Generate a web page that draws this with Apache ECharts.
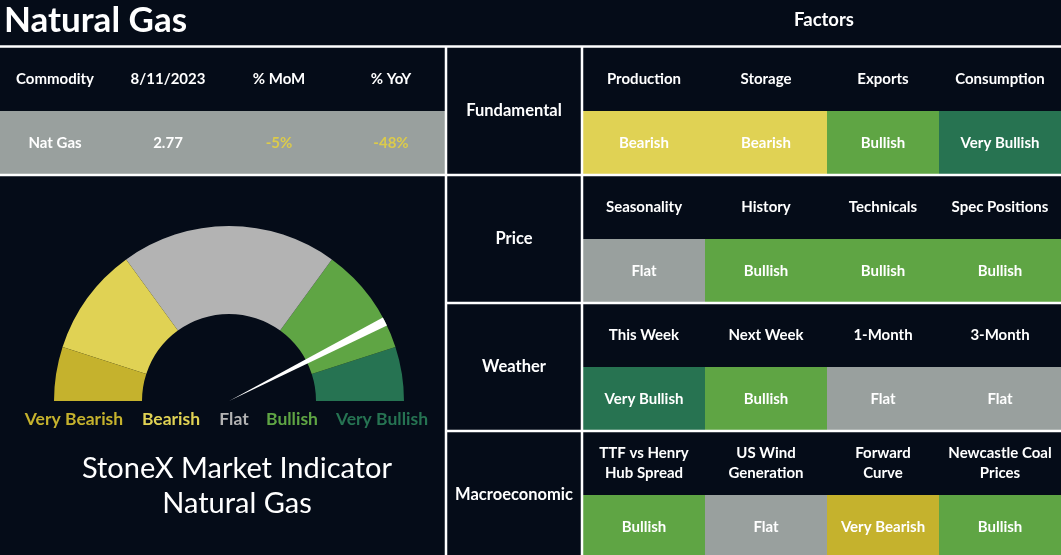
<!DOCTYPE html>
<html>
<head>
<meta charset="utf-8">
<script src="https://cdn.jsdelivr.net/npm/echarts@6/dist/echarts.min.js"></script>
<style>
html,body{margin:0;padding:0;background:#050c18;}
#chart{width:1061px;height:555px;}
</style>
</head>
<body>
<div id="chart"></div>
<script>
// ---------- DATA ----------
const pageTitle = 'Natural Gas';
const factorsTitle = 'Factors';
const commodityHeaders = ['Commodity', '8/11/2023', '% MoM', '% YoY'];
const commodityValues = ['Nat Gas', '2.77', '-5%', '-48%'];
const gaugeBands = ['Very Bearish', 'Bearish', 'Flat', 'Bullish', 'Very Bullish'];
const gaugeBandEnds = [0.1, 0.3, 0.7, 0.9, 1.0];
const indicatorValue = 85;
const indicatorTitle = ['StoneX Market Indicator', 'Natural Gas'];
const factorGroups = ['Fundamental', 'Price', 'Weather', 'Macroeconomic'];
const fundamentalFactors = ['Production', 'Storage', 'Exports', 'Consumption'];
const fundamentalSignals = ['Bearish', 'Bearish', 'Bullish', 'Very Bullish'];
const priceFactors = ['Seasonality', 'History', 'Technicals', 'Spec Positions'];
const priceSignals = ['Flat', 'Bullish', 'Bullish', 'Bullish'];
const weatherFactors = ['This Week', 'Next Week', '1-Month', '3-Month'];
const weatherSignals = ['Very Bullish', 'Bullish', 'Flat', 'Flat'];
const macroFactors = ['TTF vs Henry\nHub Spread', 'US Wind\nGeneration', 'Forward\nCurve', 'Newcastle Coal\nPrices'];
const macroSignals = ['Bullish', 'Flat', 'Very Bearish', 'Bullish'];

// ---------- STYLE ----------
const BG = '#050c18';
const FONT = 'Lato, "Noto Sans", sans-serif';
const bandColors = {
  'Very Bearish': '#c5b22d',
  'Bearish': '#e0d254',
  'Flat': '#b3b3b3',
  'Bullish': '#5fa544',
  'Very Bullish': '#267352'
};
const cellColors = {
  'Very Bearish': '#c5b22d',
  'Bearish': '#e0d254',
  'Flat': '#99a09e',
  'Bullish': '#5fa544',
  'Very Bullish': '#277351'
};
const valueTextColors = ['#ffffff', '#ffffff', '#dccb4a', '#dccb4a'];

const factorRows = [
  [fundamentalFactors, fundamentalSignals],
  [priceFactors, priceSignals],
  [weatherFactors, weatherSignals],
  [macroFactors, macroSignals]
];

// layout
const colX = [583, 705, 827, 939, 1061];
const blockTop = [47, 175, 303, 431];
const leftColCenters = [55, 168, 279, 391];
const gaugeLabelX = [74, 171, 234, 292, 382];

const graphics = [];
function txt(x, y, s, size, color, weight, lh) {
  graphics.push({
    type: 'text', z: 10,
    style: {
      x: x, y: y, text: s, fill: color, font: (weight || 'bold') + ' ' + size + 'px ' + FONT,
      textAlign: 'center', textVerticalAlign: 'middle', lineHeight: lh || size * 1.3
    }
  });
}
function rect(x, y, w, h, color) {
  graphics.push({ type: 'rect', z: 1, shape: { x: x, y: y, width: w, height: h }, style: { fill: color } });
}
function line(x1, y1, x2, y2) {
  graphics.push({ type: 'line', z: 5, shape: { x1: x1, y1: y1, x2: x2, y2: y2 }, style: { stroke: '#ffffff', lineWidth: 2.5 } });
}

// title
graphics.push({
  type: 'text', z: 10,
  style: { x: 4, y: 21, text: pageTitle, fill: '#ffffff', font: 'bold 35px ' + FONT, textAlign: 'left', textVerticalAlign: 'middle' }
});
txt(824, 20, factorsTitle, 18.5, '#ffffff');

// left commodity table
rect(0, 111, 445, 63, cellColors['Flat']);
commodityHeaders.forEach((h, i) => txt(leftColCenters[i], 79, h, 15, '#ffffff'));
commodityValues.forEach((v, i) => txt(leftColCenters[i], 143, v, 15, valueTextColors[i]));

// gauge labels
gaugeBands.forEach((b, i) => txt(gaugeLabelX[i], 419, b, 17.5, bandColors[b]));
txt(237, 469, indicatorTitle[0], 29, '#ffffff', 'normal');
txt(237, 504, indicatorTitle[1], 29, '#ffffff', 'normal');

// factor tables
factorGroups.forEach((g, gi) => {
  const top = blockTop[gi];
  txt(514, top + 64, g, 16.5, '#ffffff');
  const [names, sigs] = factorRows[gi];
  names.forEach((n, ci) => {
    const x0 = colX[ci], x1 = colX[ci + 1], cx = (x0 + x1) / 2;
    txt(cx, top + 32, n, 15, '#ffffff', 'bold', 20);
    rect(x0, top + 64, x1 - x0, Math.min(64, 555 - top - 64), cellColors[sigs[ci]]);
    txt(cx, top + 96, sigs[ci], 15, '#ffffff');
  });
});

// separators
line(0, 46.5, 1061, 46.5);
line(446, 46, 446, 555);
line(582, 46, 582, 555);
line(0, 175, 1061, 175);
line(446, 303, 1061, 303);
line(446, 431, 1061, 431);

const axisColors = gaugeBands.map((b, i) => [gaugeBandEnds[i], bandColors[b]]);

const chart = echarts.init(document.getElementById('chart'), null, { renderer: 'canvas' });
chart.setOption({
  backgroundColor: BG,
  animation: false,
  series: [{
    type: 'gauge',
    center: [229, 401],
    radius: 175,
    startAngle: 180,
    endAngle: 0,
    min: 0,
    max: 100,
    axisLine: { lineStyle: { width: 88, color: axisColors } },
    axisTick: { show: false },
    splitLine: { show: false },
    axisLabel: { show: false },
    pointer: {
      show: true,
      icon: 'path://M0,0 L10,0 L5,100 Z',
      length: '100%',
      width: 9,
      offsetCenter: [0, 0],
      itemStyle: { color: '#ffffff' }
    },
    anchor: { show: false },
    title: { show: false },
    detail: { show: false },
    data: [{ value: indicatorValue }]
  }],
  graphic: graphics
});
</script>
</body>
</html>
